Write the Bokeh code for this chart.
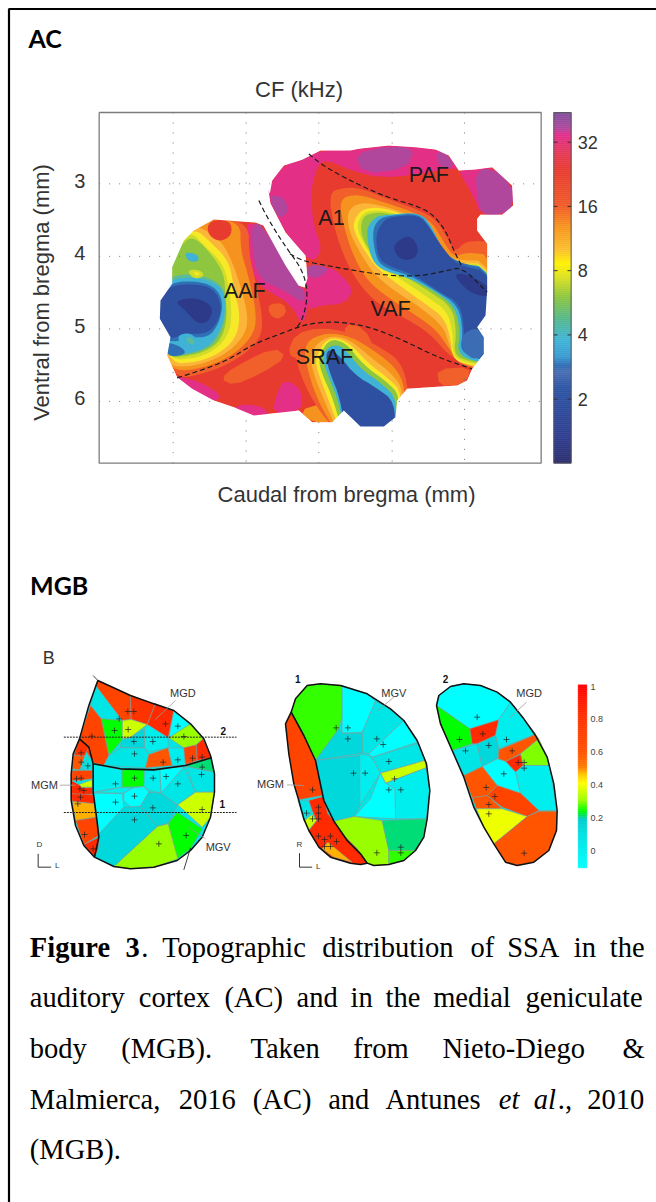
import numpy as np
from bokeh.plotting import figure
from bokeh.models import Range1d
from bokeh.core.properties import value
from bokeh.embed import file_html
from bokeh.resources import INLINE

# ---------- palette of the CF map ----------
PUR, PNK, RED, OR1, OR2, OR3, YEL, YG, GRN, TEA, CYA, BL1, BL2, BL3 = (
    "#b0479d", "#e42f86", "#e83b30", "#f15f2a", "#f6921e", "#fbb63a", "#f7e928", "#cfdc2a",
    "#8fc640", "#5cbb98", "#3fb2d6", "#2f6fb5", "#2f50a0", "#2d3a8a")

# ---------- AC map: outlines ----------
AC_SILHOUETTE = [(808,370),(815,330),(850,285),(905,268),(960,240),(1050,240),(1075,235),(1165,225),(1245,230),
    (1305,237),(1345,255),(1375,300),(1425,297),(1475,290),(1535,345),(1538,405),(1505,433),(1440,433),(1430,445),
    (1430,480),(1460,520),(1460,660),(1455,735),(1430,770),(1450,800),(1450,850),(1415,895),(1400,930),(1370,945),
    (1220,955),(1190,990),(1185,1040),(1150,1068),(1080,1068),(1030,1020),(995,1055),(935,1055),(895,1020),(760,1035),
    (700,1010),(640,990),(575,955),(530,920),(500,855),(510,800),(478,745),(480,690),(515,640),(515,590),(550,510),
    (580,480),(640,447),(765,456),(789,465),(825,531),(855,585),(894,645),(912,651),(921,624),(915,555),(855,486),
    (810,399),(804,360)]

AC_HOT = [
    (PNK, [(800,370),(815,330),(850,285),(905,268),(960,240),(1050,240),(1075,235),(1165,225),(1245,230),(1305,237),
           (1345,255),(1375,300),(1345,292),(1260,312),(1140,322),(1050,300),(980,268),(950,285),(930,370),(940,470),
           (965,530),(945,570),(915,560),(855,486),(810,399)]),
    (PNK, [(1375,300),(1425,297),(1475,290),(1535,345),(1538,405),(1505,433),(1440,433),(1415,370),(1385,320)]),
    (PUR, [(1425,302),(1475,292),(1535,345),(1538,405),(1505,433),(1445,433),(1430,380)]),
    (PUR, [(1060,250),(1165,227),(1245,235),(1215,295),(1090,310)]),
    (PUR, [(1305,240),(1345,255),(1362,290),(1315,290)]),
    (PUR, [(808,372),(850,380),(865,420),(840,445),(815,410)]),
    (PNK, [(915,620),(925,590),(990,590),(1020,610),(1060,660),(1030,700),(960,705),(920,720)]),
    (PUR, [(918,580),(990,590),(960,620),(922,622)]),
    (PNK, [(730,458),(789,465),(894,645),(918,660),(922,720),(905,765),(870,700),(800,660),(765,630),(745,560)]),
    (PUR, [(755,458),(789,465),(894,648),(912,660),(912,700),(850,660),(775,625),(755,540)]),
    (PNK, [(525,915),(575,960),(640,995),(665,975),(600,935),(560,925)]),
    (PNK, [(695,1015),(760,1040),(805,1035),(790,1010),(730,1000)]),
    (PNK, [(815,1030),(900,1025),(905,960),(855,925),(830,965)]),
    (OR1, [(805,700),(850,698),(858,730),(830,748),(805,730)]),
    (OR1, [(885,790),(960,770),(960,850),(900,870),(860,850)]),
    (OR1, [(660,925),(700,890),(820,830),(860,860),(780,910),(700,945)]),
    (OR1, [(1030,760),(1090,770),(1130,850),(1110,900),(1040,820)]),
    (OR2, [(930,1055),(898,1020),(960,1000),(1000,1010),(1010,1055)]),
    (OR1, [(1310,895),(1410,890),(1400,930),(1370,945),(1315,945)]),
]

AAF_BANDS = [
    (OR1, [(745,458),(745,550),(765,630),(790,760),(770,820),(690,880),(590,915),(530,922),(495,855),(470,745),(470,690),(505,640),(505,590),(540,505),(570,470),(640,440)]),
    (OR2, [(720,450),(720,540),(745,620),(770,740),(755,800),(690,860),(600,895),(520,902),(490,855),(470,745),(470,690),(505,640),(505,590),(540,505),(570,470),(610,450)]),
    (OR3, [(600,470),(665,510),(710,610),(745,740),(730,800),(670,855),(590,885),(515,890),(490,855),(470,745),(470,690),(505,640),(505,590),(540,505),(570,470)]),
    (YEL, [(585,475),(625,510),(685,570),(700,650),(720,740),(705,805),(655,850),(590,875),(510,880),(490,780),(470,700),(505,590),(545,505)]),
    (YG,  [(575,485),(610,525),(665,575),(685,640),(695,745),(680,800),(640,840),(590,862),(508,870),(490,780),(470,700),(505,590),(545,510)]),
    (GRN, [(550,510),(585,500),(640,560),(670,610),(675,670),(680,750),(660,810),(620,840),(570,855),(500,862),(490,800),(470,745),(470,690),(505,640),(505,590)]),
    (TEA, [(505,615),(590,610),(665,640),(678,700),(672,760),(645,815),(612,838),(560,853),(500,858),(490,800),(470,745),(470,690)]),
    (CYA, [(505,625),(600,620),(665,650),(675,700),(668,760),(640,810),(610,835),(560,850),(500,855),(490,810),(470,745),(470,690)]),
    (BL1, [(505,635),(600,632),(650,655),(668,700),(655,760),(625,800),(570,800),(500,820),(470,745),(470,690)]),
    (BL2, [(470,700),(505,645),(590,640),(640,655),(665,705),(652,755),(620,790),(555,790),(525,800),(500,808),(470,745)]),
    (BL3, [(520,690),(590,680),(640,710),(625,755),(590,760),(555,720)]),
    (CYA, [(530,795),(570,785),(600,820),(570,835),(540,818)]),
    (TEA, [(555,800),(575,800),(585,820),(565,822)]),
    (BL1, [(495,812),(545,830),(558,852),(500,860)]),
    (CYA, [(550,545),(590,550),(597,572),(565,575)]),
    (YG,  [(558,598),(600,598),(612,617),(580,627)]),
    (YEL, [(578,605),(596,605),(598,613),(585,616)]),
    (RED, [(625,450),(690,448),(695,495),(655,515),(620,490)]),
]

# second group is given relative to the right half of the map
A1_BANDS = [
    (OR1, [(25,370),(60,352),(120,352),(200,385),(300,420),(350,450),(385,510),(405,545),(430,515),(480,510),(520,520),(520,920),(440,890),(380,850),(330,790),(250,740),(170,700),(115,640),(75,570),(40,470)]),
    (OR2, [(55,385),(110,370),(190,395),(280,425),(335,455),(370,515),(400,560),(440,545),(520,555),(520,905),(430,880),(395,850),(350,780),(280,730),(200,680),(140,630),(100,560),(70,470)]),
    (OR3, [(80,420),(120,395),(185,405),(260,430),(320,460),(355,520),(395,570),(520,570),(520,900),(440,885),(405,870),(385,820),(370,770),(300,710),(220,660),(160,610),(120,550),(85,480)]),
    (YEL, [(100,450),(125,415),(180,410),(250,432),(310,465),(345,525),(390,580),(520,578),(520,895),(430,880),(395,860),(390,800),(370,740),(300,690),(230,640),(170,595),(125,530),(100,480)]),
    (YG,  [(112,455),(130,425),(180,418),(245,435),(305,468),(340,530),(385,580),(520,582),(520,890),(425,875),(395,850),(398,790),(380,720),(320,680),(240,625),(175,590),(130,520),(112,480)]),
    (GRN, [(122,455),(135,432),(180,425),(240,437),(300,470),(335,535),(380,585),(520,585),(520,885),(425,868),(400,845),(408,785),(395,710),(330,665),(250,615),(180,590),(135,520),(122,490)]),
    (CYA, [(140,470),(165,438),(200,433),(300,425),(335,470),(360,525),(400,580),(520,590),(520,880),(440,868),(410,840),(420,790),(405,710),(340,660),(260,620),(180,598),(150,560),(140,500)]),
    (BL1, [(155,480),(175,445),(210,435),(295,428),(330,470),(360,530),(405,575),(520,598),(520,875),(450,860),(418,835),(428,790),(415,705),(345,660),(270,615),(190,592),(165,560)]),
    (BL2, [(165,490),(190,450),(215,438),(295,433),(330,475),(365,530),(410,585),(520,605),(520,870),(460,852),(425,830),(432,785),(420,700),(350,660),(285,615),(200,585),(172,560)]),
    ("#3c6cb4", [(425,790),(470,770),(495,800),(495,850),(455,870),(425,830)]),
    (BL3, [(215,530),(240,505),(270,495),(295,530),(285,565),(240,570)]),
    (BL3, [(395,610),(440,610),(510,650),(510,680),(450,670)]),
]
SRAF_BANDS = [
    (OR1, [(-80,800),(-10,770),(90,785),(170,825),(240,870),(265,955),(260,1100),(60,1100),(-20,1000),(-70,890)]),
    (OR2, [(-50,815),(20,785),(95,800),(160,840),(225,890),(255,950),(250,1100),(60,1100),(0,1010),(-40,900)]),
    (OR3, [(-30,840),(20,795),(85,805),(150,860),(215,910),(250,960),(240,1100),(60,1100),(15,1000),(-25,900)]),
    (YEL, [(-15,860),(20,800),(80,810),(140,875),(205,925),(245,965),(235,1100),(65,1100),(25,990),(-10,900)]),
    (GRN, [(-5,860),(25,805),(75,815),(130,885),(195,930),(240,975),(230,1100),(68,1100),(40,990),(0,900)]),
    (CYA, [(5,850),(30,825),(65,825),(120,895),(185,940),(230,985),(225,1100),(72,1100),(55,990),(15,900)]),
    (BL2, [(15,850),(30,835),(60,860),(105,915),(165,950),(225,995),(220,1100),(75,1100),(60,985),(25,900)]),
]
AC_DASHED_Z1 = [
    [(775,390),(800,440),(830,490),(860,535),(900,590),(918,640),(920,690),(905,750),(885,775)],
    [(868,550),(905,570),(960,582),(1060,600),(1160,615),(1260,617),(1340,600),(1385,590),(1460,665)],
    [(925,250),(960,280),(1020,315),(1090,350),(1160,380),(1260,410),(1300,435),(1335,480),(1360,540),(1385,590)],
    [(530,922),(600,900),(680,870),(760,820),(840,790),(905,765),(960,755),(1030,755),(1110,770),(1210,810),(1310,860),(1415,895)],
]
AC_REGIONS = [("PAF",1285,313),("A1",993,442),("AAF",733,661),("VAF",1170,715),("SRAF",972,860)]

# dotted guide lines: gaps are where the map lies
MM_X_GUIDES = [(518,[(126,535),(905,1178)]),(737,[(126,452),(1020,1178)]),(955,[(126,245),(1055,1178)]),
               (1175,[(126,225),(1050,1178)]),(1392,[(126,300),(925,1178)])]
MM_Y_GUIDES = [(3,[(296,808),(1538,1620)]),(4,[(296,545),(1462,1620)]),(5,[(296,495),(1440,1620)]),(6,[(296,632),(1195,1620)])]

CF_TICKS = [32,16,8,4,2]
CF_BAR_STOPS = [(126,"#7e4f9c"),(170,"#a94a9e"),(195,"#e32f8c"),(255,"#e63a52"),(300,"#e83b30"),(405,"#f15a29"),(470,"#f7941d"),
                (540,"#fbc02d"),(580,"#fff200"),(625,"#d7df23"),(680,"#8dc63f"),(745,"#55b88a"),(810,"#3fb4d8"),(860,"#3a9ad0"),
                (885,"#2f6db5"),(905,"#4a6eb5"),(950,"#2d55a5"),(1100,"#2e3d90"),(1178,"#2b2e6e")]

# ---------- MGB maps ----------
C, C2, C3, TL = "#00ffff", "#00eeee", "#00e6e6", "#00d8dc"
G, GT, YGR, LIM, YL = "#00ff00", "#00dd77", "#99ff00", "#ccff00", "#eeff00"
R, RO, OR, AM = "#ff2a00", "#ff4400", "#ff5500", "#ffb000"

PANEL_A_OUTLINE = [(232,120),(330,165),(400,190),(460,210),(510,250),(550,295),(570,345),(582,400),(582,455),(570,530),(545,590),
    (510,630),(470,660),(400,680),(330,685),(280,678),(222,650),(190,615),(165,555),(152,480),(152,400),(158,340),(177,295),(205,195)]
PANEL_A_CELLS = [
    (RO,[(232,120),(330,165),(332,237),(305,240),(225,135)]),(C3,[(225,135),(305,240),(242,235),(210,195)]),
    ("#ff3300",[(330,165),(405,190),(380,252),(332,237)]),(R,[(405,190),(460,212),(443,292),(380,252)]),
    (C,[(460,212),(510,250),(445,292)]),(YGR,[(510,250),(548,295),(525,315),(490,322),(445,292)]),
    (LIM,[(305,240),(332,237),(380,252),(330,290),(305,295)]),(G,[(242,235),(305,240),(303,300),(265,345)]),
    (RO,[(210,195),(242,235),(265,345),(250,375),(215,365),(177,295)]),(TL,[(303,298),(330,292),(372,265),(372,322),(300,322)]),
    (C2,[(372,265),(380,252),(443,292),(443,322),(385,335),(372,322)]),(C3,[(300,322),(372,322),(385,342),(375,382),(250,375),(265,345)]),
    (OR,[(385,342),(443,322),(455,375),(375,382)]),(C2,[(443,322),(490,322),(495,373),(455,375)]),
    (RO,[(490,322),(528,313),(530,360),(495,373)]),(R,[(528,313),(548,295),(570,345),(573,352),(530,360)]),
    (GT,[(495,373),(573,352),(582,395),(497,378)]),(C3,[(497,378),(582,395),(582,455),(525,455)]),
    (C2,[(218,370),(305,388),(305,440),(218,455)]),(G,[(305,388),(372,385),(370,438),(305,440)]),
    (C2,[(372,385),(418,382),(422,458),(385,450),(370,438)]),(C,[(418,382),(490,380),(422,458)]),
    (C3,[(490,380),(525,455),(470,493),(422,458)]),(C,[(218,457),(305,460),(310,500),(230,590)]),
    (C,[(335,443),(370,438),(385,455),(360,497),(335,503),(310,480),(310,458)]),(C2,[(305,440),(335,443),(310,458),(218,457)]),
    (TL,[(385,455),(422,458),(470,495),(445,548),(410,558),(360,497)]),(LIM,[(525,455),(582,455),(570,530),(545,560),(472,493)]),
    (G,[(470,515),(545,565),(510,625),(470,655),(443,550)]),(YGR,[(410,558),(443,550),(472,655),(400,680),(330,685),(280,678)]),
    (TL,[(310,500),(360,497),(410,558),(280,678),(222,650),(235,580)]),
    ("#ff3300",[(177,295),(205,320),(192,347),(160,345)]),(OR,[(160,345),(192,347),(178,388),(155,385)]),
    (C3,[(208,345),(218,370),(215,390),(182,385)]),(RO,[(155,390),(215,390),(215,415),(178,420),(152,420)]),
    (R,[(152,420),(175,432),(185,442),(215,440),(217,460),(190,465),(152,460)]),(LIM,[(175,432),(215,418),(215,440),(185,440)]),
    (R,[(152,460),(218,462),(222,490),(175,485),(155,483)]),(AM,[(155,483),(222,490),(228,530),(165,540)]),
    (RO,[(165,540),(228,530),(235,585),(190,612)]),(R,[(190,612),(235,590),(233,625),(222,650)]),
]
PANEL_A_THICK = [[(177,295),(205,320),(218,370),(300,385),(400,388),(495,375),(573,352)],
                 [(218,370),(218,455),(230,545),(235,590),(222,650)]]
PANEL_A_SITES = [(322,213),(340,213),(296,235),(282,270),(323,267),(435,250),(472,257),(490,288),(214,287),(340,303),(397,303),
    (342,340),(428,365),(472,358),(516,353),(545,350),(182,337),(182,365),(202,376),(168,415),(182,413),(178,445),(190,450),
    (180,470),(172,490),(545,380),(543,402),(342,413),(398,413),(437,408),(472,430),(285,430),(285,485),(342,467),(397,502),
    (342,538),(545,507),(497,585),(415,610),(192,582),(218,625)]

PANEL_1_OUTLINE = [(152,155),(165,115),(200,75),(240,70),(300,75),(380,100),(450,145),(490,180),(530,240),(558,310),(568,390),
    (560,475),(550,530),(525,570),(490,600),(445,612),(400,615),(380,608),(360,612),(330,608),(270,590),(235,560),(205,510),
    (190,475),(175,420),(160,370),(145,280),(135,190)]
PANEL_1_CELLS = [
    ("#33ff00",[(152,155),(165,115),(200,75),(240,70),(305,75),(305,165),(295,205),(225,300),(190,225)]),
    (C,[(305,75),(380,100),(405,122),(365,215),(305,218),(305,165)]),(C3,[(405,122),(450,145),(490,180),(385,280),(365,275),(365,215)]),
    (C,[(490,180),(530,245),(395,290),(385,280)]),(TL,[(305,218),(365,218),(365,278),(225,300),(295,205)]),
    (TL,[(225,300),(358,285),(358,435),(342,468),(280,482),(255,450),(240,395)]),(C2,[(358,280),(385,285),(400,300),(420,338),(358,435)]),
    (C3,[(395,290),(535,248),(553,300),(420,338),(400,300)]),(LIM,[(420,338),(553,300),(557,322),(435,368)]),
    (C2,[(557,322),(568,390),(557,475),(465,475),(463,385),(435,368)]),(C,[(435,368),(463,385),(465,475),(342,468),(390,415),(420,338)]),
    (YGR,[(280,482),(342,468),(425,480),(445,570),(445,612),(400,615),(380,608),(350,565),(310,525)]),
    (GT,[(425,480),(557,475),(550,530),(525,570),(445,570)]),("#2fff00",[(445,570),(525,570),(490,600),(445,612)]),
    (RO,[(152,155),(190,225),(225,300),(245,405),(175,418),(160,370),(145,280),(135,190)]),
    (C3,[(172,418),(205,422),(215,450),(190,480)]),
    (R,[(205,420),(248,408),(262,460),(280,482),(310,525),(350,565),(380,608),(360,612),(330,608),(270,590),(235,560),(205,510),(228,480),(215,450)]),
    (LIM,[(192,480),(215,462),(228,480),(205,508)]),(AM,[(262,545),(335,605),(280,590),(245,565)]),
]
PANEL_1_THICK = [[(152,155),(190,225),(225,300),(250,420),(280,482),(320,540),(360,580),(380,608)]]
PANEL_1_SITES = [(287,202),(322,202),(322,235),(409,235),(428,252),(445,303),(339,338),(374,338),(462,355),(445,388),(481,388),
    (216,388),(234,440),(234,458),(198,458),(216,475),(234,475),(234,527),(270,527),(252,537),(288,543),(252,558),(270,558),
    (409,577),(481,560),(481,577)]

PANEL_2_OUTLINE = [(18,135),(25,105),(60,78),(100,70),(150,75),(200,95),(240,125),(280,175),(315,225),(350,290),(370,370),(380,450),
    (378,510),(355,570),(310,605),(260,615),(225,605),(190,550),(160,500),(130,440),(100,350),(65,270),(30,190)]
PANEL_2_CELLS = [
    (C,[(18,135),(25,105),(60,78),(100,70),(150,75),(200,95),(240,125),(205,178),(118,205)]),
    (G,[(18,135),(118,205),(125,250),(65,270),(30,190)]),(R,[(118,205),(205,178),(195,225),(140,250),(125,250)]),
    (C2,[(240,125),(280,175),(315,220),(205,265),(195,225),(205,178)]),(C3,[(65,270),(140,250),(155,318),(100,345)]),
    (TL,[(140,250),(195,225),(205,265),(200,295),(155,318)]),(OR,[(205,268),(315,222),(325,235),(270,280),(225,303),(203,295)]),
    ("#80ff00",[(325,235),(350,290),(357,315),(278,315),(270,280)]),(R,[(270,282),(278,315),(255,335),(225,303)]),
    (C,[(155,318),(200,295),(225,303),(255,335),(270,398),(200,375)]),(C2,[(278,315),(357,315),(378,450),(325,450),(270,398),(255,335)]),
    (OR,[(100,345),(155,318),(200,375),(170,405),(125,412)]),(RO,[(200,375),(270,398),(325,450),(290,468),(215,440),(170,405)]),
    (OR,[(125,412),(170,405),(215,445),(138,445)]),(YL,[(138,445),(215,445),(290,468),(190,550),(160,500)]),
    (OR,[(325,452),(380,452),(378,510),(355,570),(310,605),(260,615),(225,605),(190,550),(290,468)]),
]
PANEL_2_SITES = [(140,170),(157,220),(87,237),(105,271),(175,255),(228,237),(245,271),(263,306),(281,306),(281,323),(220,340),
    (167,381),(193,408),(175,432),(175,460),(281,578)]

SSA_TICKS = [1,0.8,0.6,0.4,0.2,0]
SSA_BAR_STOPS = [(73,"#ff0000"),(170,"#ff3000"),(272,"#ff5000"),(320,"#ff7a00"),(345,"#ffcc00"),(370,"#ffff00"),(420,"#99ff00"),
                 (452,"#00ff00"),(466,"#00e060"),(476,"#00cccc"),(520,"#00e0e0"),(622,"#00ffff")]

CAPTION_LINES = [
    [("Figure",88,"bold"),("3",375,"bold"),(".",422,"normal"),("Topographic",485,"normal"),("distribution",965,"normal"),("of",1410,"normal"),("SSA",1520,"normal"),("in",1720,"normal"),("the",1828,"normal")],
    [("auditory",88,"normal"),("cortex",415,"normal"),("(AC)",672,"normal"),("and",888,"normal"),("in",1050,"normal"),("the",1155,"normal"),("medial",1298,"normal"),("geniculate",1575,"normal")],
    [("body",88,"normal"),("(MGB).",362,"normal"),("Taken",750,"normal"),("from",1058,"normal"),("Nieto-Diego",1326,"normal"),("&",1866,"normal")],
    [("Malmierca,",88,"normal"),("2016",535,"normal"),("(AC)",757,"normal"),("and",983,"normal"),("Antunes",1155,"normal"),("et",1495,"italic"),("al",1600,"italic"),(".,",1672,"normal"),("2010",1760,"normal")],
    [("(MGB).",88,"normal")],
]
CAPTION_MIDDLES = [67,215,369,522,672]

# ---------- figure ----------
W, H = 656, 1202
p = figure(width=W, height=H, x_range=Range1d(0, W), y_range=Range1d(H, 0), output_backend="svg",
           toolbar_location=None, min_border=0, outline_line_color=None, x_axis_type=None, y_axis_type=None)
p.grid.visible = False
p.background_fill_color = "white"
p.border_fill_color = "white"

def frame(name, ox, oy):
    p.extra_x_ranges[name] = Range1d((0-ox)*3, (W-ox)*3)
    p.extra_y_ranges[name] = Range1d((H-oy)*3, (0-oy)*3)
    return dict(x_range_name=name, y_range_name=name)

Z1 = frame("z1", 0, 70)
Z2 = frame("z2", 320, 70)
ZA = frame("za", 20, 640)
ZB = frame("zb", 240, 660)
ZC = frame("zc", 430, 660)
ZT = frame("zt", 0, 925)

def xy(pts):
    return [q[0] for q in pts], [q[1] for q in pts]

def smooth(pts, closed=True, n=2):
    a = np.asarray(pts, float)
    for _ in range(n):
        if closed:
            b = np.roll(a, -1, axis=0)
            a = np.column_stack([0.75*a+0.25*b, 0.25*a+0.75*b]).reshape(-1, 2)
        else:
            l, r = a[:-1], a[1:]
            mid = np.column_stack([0.75*l+0.25*r, 0.25*l+0.75*r]).reshape(-1, 2)
            a = np.vstack([a[:1], mid, a[-1:]])
    return a[:, 0].tolist(), a[:, 1].tolist()

def label(txt, x, y, fr, size, color="#222222", font="Liberation Sans", style="normal", align="center", base="middle", angle=0):
    p.text([x], [y], text=[txt], text_font=value(font), text_font_size=f"{size}px", text_color=color, text_font_style=style,
           text_align=align, text_baseline=base, angle=angle, **fr)

def stripes(stops, x0, x1, fr):
    ys = np.array([s[0] for s in stops], float)
    rgb = np.array([[int(s[1][i:i+2], 16) for i in (1, 3, 5)] for s in stops], float)
    edges = np.arange(ys[0], ys[-1], 6.0)
    edges = np.append(edges, ys[-1])
    mids = (edges[:-1]+edges[1:])/2
    cols = ["#%02x%02x%02x" % tuple(int(round(np.interp(m, ys, rgb[:, k]))) for k in range(3)) for m in mids]
    p.quad(left=x0, right=x1, top=edges[:-1], bottom=edges[1:], fill_color=cols, line_color=cols, line_width=0.5, **fr)

# page border
p.line([8.5, 8.5, 656], [1202, 8.5, 8.5], line_color="black", line_width=2.2)
label("AC", 28, 37.5, dict(), 25, "black", "Lato", "bold", "left")
label("MGB", 29.5, 584, dict(), 25, "black", "Lato", "bold", "left")

# AC map
sx, sy = xy(AC_SILHOUETTE)
p.patch(sx, sy, fill_color=RED, line_color=RED, line_width=0.5, **Z1)
for col, pts in AC_HOT:
    x, y = smooth(pts, n=1)
    p.patch(x, y, fill_color=col, line_color=None, **Z1)
for col, pts in AAF_BANDS:
    x, y = smooth(pts)
    p.patch(x, y, fill_color=col, line_color=None, **Z1)
for col, pts in A1_BANDS:
    x, y = smooth(pts)
    p.patch(x, y, fill_color=col, line_color=None, **Z2)
for col, pts in SRAF_BANDS:
    x, y = smooth(pts)
    p.patch(x, y, fill_color=col, line_color=None, **Z2)

# white outside of the map, with the map's outline as hole
RX, RY = [290, 290, 1625, 1625], [120, 1185, 1185, 120]
p.multi_polygons(xs=[[[RX, sx]]], ys=[[[RY, sy]]], fill_color="white", line_color=None, **Z1)

def mm_y(t):
    return 340 + (t-3)*217.6

for gx, spans in MM_X_GUIDES:
    for a, b in spans:
        p.line([gx, gx], [a, b], line_color="#7a7a7a", line_width=1, line_dash="1 9", **Z1)
for t, spans in MM_Y_GUIDES:
    for a, b in spans:
        p.line([a, b], [mm_y(t), mm_y(t)], line_color="#7a7a7a", line_width=1, line_dash="1 9", **Z1)
    label(str(t), 238, mm_y(t)-10, Z1, 20, "#333333")

for pts in AC_DASHED_Z1:
    x, y = smooth(pts, closed=False)
    p.line(x, y, line_color="#1c1c1c", line_width=1.2, line_dash="5 3", **Z1)
for name, x, y in AC_REGIONS:
    label(name, x, y, Z1, 21.5, "#1a1a1a")

p.line([296, 1622, 1622, 296, 296], [126, 126, 1178, 1178, 126], line_color="#7c7c7c", line_width=1.3, **Z1)
label("CF (kHz)", 298.5, 89, dict(), 22, "#333333")
label("Caudal from bregma (mm)", 346, 494, dict(), 22, "#333333")
label("Ventral from bregma (mm)", 41, 292, dict(), 22, "#333333", angle=np.pi/2)

# CF colour bar
stripes(CF_BAR_STOPS, 700, 752, Z2)
p.line([700, 752, 752, 700, 700], [126, 126, 1178, 1178, 126], line_color="#5a5a5a", line_width=1, **Z2)
for t in CF_TICKS:
    y = 215 + (5-np.log2(t))*192.75
    p.line([700, 711], [y, y], line_color="#333333", line_width=1, **Z2)
    p.line([741, 752], [y, y], line_color="#333333", line_width=1, **Z2)
    label(str(t), 772, y, Z2, 18, "#333333", align="left")

# MGB maps
def panel(cells, outline, sites, thick, fr):
    ox, oy = xy(outline)
    p.patch(ox, oy, fill_color=C3, line_color=None, **fr)
    for col, pts in cells:
        x, y = xy(pts)
        p.patch(x, y, fill_color=col, line_color="#8a9a9a", line_width=0.6, **fr)
    p.patch(ox + ox[:1], oy + oy[:1], fill_color=None, line_color="#111111", line_width=1.5, **fr)
    for pts in thick:
        x, y = xy(pts)
        p.line(x, y, line_color="#111111", line_width=1.6, **fr)
    x, y = xy(sites)
    p.scatter(x, y, marker="cross", size=6, line_color="#222222", line_width=0.7, fill_color=None, **fr)

panel(PANEL_A_CELLS, PANEL_A_OUTLINE, PANEL_A_SITES, PANEL_A_THICK, ZA)
panel(PANEL_1_CELLS, PANEL_1_OUTLINE, PANEL_1_SITES, PANEL_1_THICK, ZB)
panel(PANEL_2_CELLS, PANEL_2_OUTLINE, PANEL_2_SITES, [], ZC)

label("B", 85, 52, ZA, 18, "#333333")
for y in (290, 516):
    p.line([130, 648], [y, y], line_color="#222222", line_width=1, line_dash="2 1", **ZA)
label("2", 608, 272, ZA, 10, "#111111", style="bold")
label("1", 605, 490, ZA, 10, "#111111", style="bold")
label("MGD", 487, 156, ZA, 11, "#333333")
label("MGM", 72, 432, ZA, 11, "#333333")
label("MGV", 593, 620, ZA, 11, "#333333")
for a, b in [((465,180),(403,238)),((118,434),(165,434)),((555,595),(503,560)),((218,105),(232,120)),((510,622),(490,688))]:
    col = "#111111" if a[0] in (218, 510) else "#999999"
    p.line([a[0], b[0]], [a[1], b[1]], line_color=col, line_width=0.8, **ZA)
label("D", 57, 612, ZA, 8, "#333333")
label("L", 110, 675, ZA, 8, "#333333")
p.line([53, 53, 92], [640, 680, 680], line_color="#333333", line_width=1, **ZA)

label("1", 172, 54, ZB, 10, "#111111", style="bold")
label("MGV", 460, 97, ZB, 11, "#333333")
label("MGM", 90, 371, ZB, 11, "#333333")
p.line([460, 410], [110, 152], line_color="#999999", line_width=0.8, **ZB)
p.line([140, 190], [373, 375], line_color="#999999", line_width=0.8, **ZB)
label("R", 177, 552, ZB, 8, "#333333")
label("L", 233, 617, ZB, 8, "#333333")
p.line([177, 177, 215], [578, 620, 620], line_color="#333333", line_width=1, **ZB)

label("2", 45, 54, ZC, 10, "#111111", style="bold")
label("MGD", 296, 97, ZC, 11, "#333333")
p.line([288, 238], [125, 172], line_color="#999999", line_width=0.8, **ZC)

stripes(SSA_BAR_STOPS, 443, 469, ZC)
for t in SSA_TICKS:
    y = 570 - 492*t
    label(str(t), 480, y, ZC, 9, "#444444", align="left")

# caption
for mid, words in zip(CAPTION_MIDDLES, CAPTION_LINES):
    for word, x, style in words:
        label(word, x, mid, ZT, 28.5, "black", "Liberation Serif", style, "left", "middle")

open("out.html", "w").write(file_html(p, INLINE))
